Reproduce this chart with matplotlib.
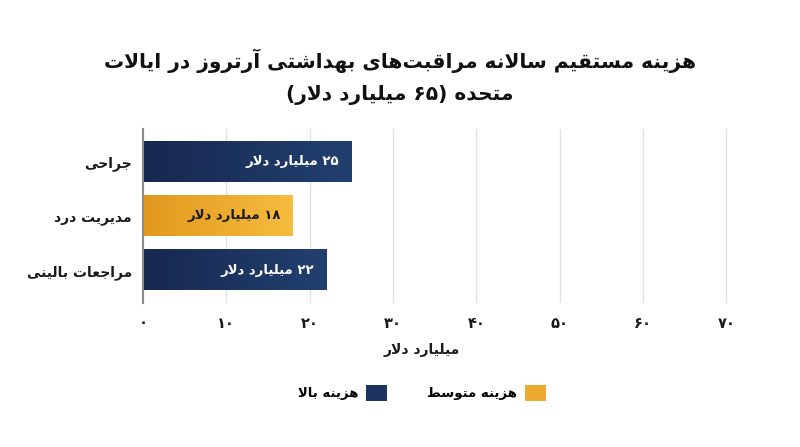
import re
import numpy as np
import matplotlib
matplotlib.use("Agg")
import matplotlib.pyplot as plt
from matplotlib.colors import LinearSegmentedColormap
from matplotlib.patches import Patch

# data
categories = ["جراحی", "مدیریت درد", "مراجعات بالینی"]
values = [25, 18, 22]
levels = ["high", "medium", "high"]
legend_order = ["high", "medium"]
legend_labels = {"high": "هزینه بالا", "medium": "هزینه متوسط"}
xticks = [0, 10, 20, 30, 40, 50, 60, 70]
title_lines = ["هزینه مستقیم سالانه مراقبت‌های بهداشتی آرتروز در ایالات",
               "متحده (۶۵ میلیارد دلار)"]
xlabel = "میلیارد دلار"
unit = "میلیارد دلار"

# matplotlib has no arabic shaping, so do it by hand:
# isolated, final, (initial, medial)
FORMS = {
    'ا': ('\ufe8d', '\ufe8e'),
    'آ': ('\ufe81', '\ufe82'),
    'ب': ('\ufe8f', '\ufe90', '\ufe91', '\ufe92'),
    'ت': ('\ufe95', '\ufe96', '\ufe97', '\ufe98'),
    'ج': ('\ufe9d', '\ufe9e', '\ufe9f', '\ufea0'),
    'ح': ('\ufea1', '\ufea2', '\ufea3', '\ufea4'),
    'د': ('\ufea9', '\ufeaa'),
    'ر': ('\ufead', '\ufeae'),
    'ز': ('\ufeaf', '\ufeb0'),
    'س': ('\ufeb1', '\ufeb2', '\ufeb3', '\ufeb4'),
    'ش': ('\ufeb5', '\ufeb6', '\ufeb7', '\ufeb8'),
    'ط': ('\ufec1', '\ufec2', '\ufec3', '\ufec4'),
    'ع': ('\ufec9', '\ufeca', '\ufecb', '\ufecc'),
    'ق': ('\ufed5', '\ufed6', '\ufed7', '\ufed8'),
    'ل': ('\ufedd', '\ufede', '\ufedf', '\ufee0'),
    'م': ('\ufee1', '\ufee2', '\ufee3', '\ufee4'),
    'ن': ('\ufee5', '\ufee6', '\ufee7', '\ufee8'),
    'ه': ('\ufee9', '\ufeea', '\ufeeb', '\ufeec'),
    'و': ('\ufeed', '\ufeee'),
    'ی': ('\ufbfc', '\ufbfd', '\ufbfe', '\ufbff'),
}


def dual(ch):
    return ch in FORMS and len(FORMS[ch]) == 4


def shape(text):
    text = text.replace('\u064a', '\u06cc')
    out = []
    i, n = 0, len(text)
    while i < n:
        ch = text[i]
        if ch not in FORMS:
            if ch != '\u200c':
                out.append(ch)
            i += 1
            continue
        prev = text[i - 1] if i > 0 else ''
        nxt = text[i + 1] if i + 1 < n else ''
        jp = dual(prev)
        if ch == 'ل' and nxt == 'ا':
            out.append('\ufefc' if jp else '\ufefb')
            i += 2
            continue
        jn = dual(ch) and nxt in FORMS
        f = FORMS[ch]
        if jp and jn:
            out.append(f[3])
        elif jp:
            out.append(f[1])
        elif jn:
            out.append(f[2])
        else:
            out.append(f[0])
        i += 1
    vis = ''.join(out)[::-1]
    vis = vis.translate(str.maketrans('()', ')('))
    vis = re.sub('[0-9\u06f0-\u06f9]+', lambda m: m.group(0)[::-1], vis)
    return vis


def to_fa(v):
    return str(v).translate(str.maketrans('0123456789', '۰۱۲۳۴۵۶۷۸۹'))


plt.rcParams['font.family'] = ['DejaVu Sans']
plt.rcParams['font.weight'] = 'bold'

cmaps = {
    "high": LinearSegmentedColormap.from_list("navy", ["#172850", "#22406f"]),
    "medium": LinearSegmentedColormap.from_list("amber", ["#e2981e", "#f6bc3d"]),
}
label_colors = {"high": "white", "medium": "#1a1a1a"}
text_col = "#1a1a1a"

fig = plt.figure(figsize=(8, 4.47), dpi=100)
ax = fig.add_axes([143 / 800, 1 - 303 / 447, 600 / 800, 174 / 447])

y = np.arange(len(categories))
bars = ax.barh(y, values, height=0.74, color=[cmaps[l](0.5) for l in levels], zorder=2)
grad = np.linspace(0, 1, 256).reshape(1, -1)
for bar, lvl in zip(bars, levels):
    x0, y0 = bar.get_x(), bar.get_y()
    ax.imshow(grad, cmap=cmaps[lvl], aspect='auto', zorder=3,
              extent=[x0, x0 + bar.get_width(), y0, y0 + bar.get_height()])

for i, (v, lvl) in enumerate(zip(values, levels)):
    ax.text(v - 1.45, i, shape(f"{to_fa(v)} {unit}"), ha='right', va='center',
            color=label_colors[lvl], fontsize=9.5, fontweight='bold', zorder=4)

ax.set_xlim(0, 72)
ax.set_ylim(2.6, -0.6)
ax.set_xticks(xticks, [to_fa(t) for t in xticks])
ax.set_yticks(y, [shape(c) for c in categories])
ax.tick_params(axis='both', length=0, colors=text_col)
ax.tick_params(axis='x', pad=9, labelsize=10.5)
ax.tick_params(axis='y', pad=8, labelsize=10)
for s in ['top', 'right', 'bottom']:
    ax.spines[s].set_visible(False)
ax.spines['left'].set_color('#8a8a8a')
ax.spines['left'].set_linewidth(1.5)
ax.spines['left'].set_zorder(5)
ax.grid(axis='x', color='#e2e2e2', linewidth=1, zorder=0)
ax.set_axisbelow(True)

fig.text(0.5, 1 - 61 / 447, shape(title_lines[0]), ha='center', va='center',
         fontsize=14.5, fontweight='bold', color='#111111')
fig.text(0.5, 1 - 95 / 447, shape(title_lines[1]), ha='center', va='center',
         fontsize=14.5, fontweight='bold', color='#111111')
fig.text(422 / 800, 1 - 350 / 447, shape(xlabel), ha='center', va='center',
         fontsize=10, fontweight='bold', color=text_col)

handles = [Patch(facecolor=cmaps[k](0.5)) for k in legend_order]
fig.legend(handles, [shape(legend_labels[k]) for k in legend_order],
           loc='center', bbox_to_anchor=(422 / 800, 1 - 393 / 447), ncol=2,
           frameon=False, markerfirst=False, handlelength=1.6, handleheight=1.5,
           handletextpad=0.6, columnspacing=3.0,
           prop={'size': 9.5, 'weight': 'bold'})

fig.savefig("out.png", dpi=100, facecolor='white')
